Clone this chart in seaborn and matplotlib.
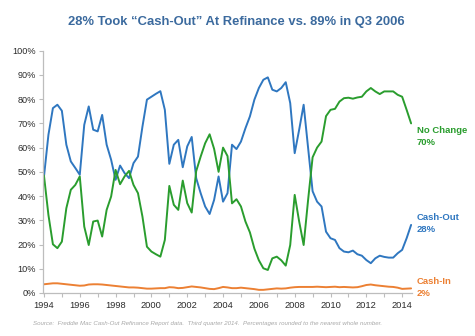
import numpy as np
import pandas as pd
import matplotlib
matplotlib.use("Agg")
import matplotlib.pyplot as plt
import seaborn as sns
from matplotlib.ticker import PercentFormatter, MultipleLocator

# ---- data (quarterly, 1994 Q1 - 2014 Q3), percent of refinances ----
quarters = pd.period_range("1994Q1", "2014Q3", freq="Q")

cash_out = [48.0, 65.3, 76.3, 77.7,   75.2, 61.2, 54.3, 51.6,
            48.8, 69.4, 77.0, 67.4,   66.7, 73.5, 61.2, 55.0,
            46.7, 52.6, 49.5, 47.4,   53.6, 56.3, 68.7, 79.8,
            81.0, 82.2, 83.3, 75.6,   53.3, 61.2, 63.2, 51.9,
            60.5, 64.4, 47.4, 41.2,   35.7, 32.6, 38.4, 48.1,
            37.7, 41.2, 61.2, 59.4,   62.5, 68.0, 72.9, 79.8,
            84.6, 88.0, 89.0, 83.9,   83.2, 84.6, 87.0, 78.4,
            57.7, 67.4, 77.7, 59.8,   42.0, 37.7, 35.7, 25.3,
            22.6, 21.9, 18.5, 17.1,   16.8, 17.5, 16.0, 15.4,
            13.6, 12.3, 14.3, 15.4,   14.9, 14.6, 14.6, 16.4,
            17.8, 22.6, 28.1]

no_change = [48.5, 32.2, 20.1, 18.5,  21.2, 35.0, 42.6, 44.6,
             48.1, 27.4, 19.8, 29.5,  29.9, 23.3, 34.3, 39.8,
             50.8, 44.9, 48.1, 50.4,  44.6, 41.2, 31.5, 19.1,
             17.1, 16.0, 15.0, 21.9,  44.2, 36.4, 34.3, 46.4,
             37.1, 33.2, 50.3, 56.3,  61.8, 65.5, 59.5, 50.0,
             60.0, 56.5, 37.0, 38.7,  35.7, 29.5, 25.0, 18.3,
             13.5, 10.2, 9.5, 14.3,   15.0, 13.5, 11.3, 19.8,
             40.5, 29.5, 19.8, 38.5,  56.0, 60.0, 62.5, 73.0,
             75.6, 76.0, 79.0, 80.4,  80.6, 80.2, 80.7, 81.0,
             83.2, 84.6, 83.2, 82.1,  83.2, 83.2, 83.2, 81.8,
             81.0, 75.6, 70.0]

cash_in = [3.6, 3.8, 4.0, 4.0,  3.8, 3.6, 3.4, 3.2,
           3.0, 3.1, 3.5, 3.6,  3.6, 3.5, 3.3, 3.1,
           2.9, 2.7, 2.5, 2.3,  2.3, 2.2, 2.0, 1.8,
           1.8, 1.9, 2.0, 2.0,  2.4, 2.3, 2.0, 2.1,
           2.4, 2.7, 2.5, 2.3,  2.0, 1.7, 1.6, 2.0,
           2.5, 2.3, 2.0, 2.0,  2.2, 2.0, 1.8, 1.6,
           1.3, 1.3, 1.5, 1.7,  1.9, 1.8, 1.9, 2.2,
           2.4, 2.5, 2.5, 2.5,  2.5, 2.6, 2.5, 2.4,
           2.5, 2.6, 2.4, 2.5,  2.4, 2.3, 2.4, 2.8,
           3.3, 3.5, 3.2, 3.0,  2.8, 2.6, 2.5, 2.2,
           1.7, 1.8, 1.9]

series_names = ["Cash-Out", "No Change", "Cash-In"]
end_labels = ["28%", "70%", "2%"]
year_ticks = list(range(1994, 2015, 2))

title = "28% Took \u201cCash-Out\u201d At Refinance vs. 89% in Q3 2006"
source = ("Source:  Freddie Mac Cash-Out Refinance Report data.  Third quarter 2014.  "
          "Percentages rounded to the nearest whole number.")

# ---- build long table ----
t = np.asarray(quarters.year + (quarters.quarter - 1) / 4.0, dtype=float)
n = len(t)
df = pd.DataFrame({
    "t": np.concatenate([t, t, t]),
    "value": cash_out + no_change + cash_in,
    "series": [series_names[0]] * n + [series_names[1]] * n + [series_names[2]] * n,
})

colors = {"Cash-Out": "#2F77C0", "No Change": "#2A9D2E", "Cash-In": "#EC8033"}

sns.set_style("white")
plt.rcParams["font.family"] = ["Liberation Sans", "DejaVu Sans"]

W, H = 475, 336
fig = plt.figure(figsize=(W / 100, H / 100), dpi=100)
ax = fig.add_axes([42.7 / W, 43 / H, 369.3 / W, 242.3 / H])

sns.lineplot(data=df, x="t", y="value", hue="series", hue_order=series_names,
             palette=colors, linewidth=1.4, ax=ax, legend=False)

ax.set_xlim(1993.93, 2014.55)
ax.set_ylim(0, 100)
ax.set_xticks(year_ticks)
ax.set_xticklabels([str(y) for y in year_ticks])
ax.xaxis.set_minor_locator(MultipleLocator(1))
ax.yaxis.set_major_locator(MultipleLocator(10))
ax.yaxis.set_major_formatter(PercentFormatter(100, decimals=0))
ax.set_xlabel("")
ax.set_ylabel("")

for s in ["top", "right"]:
    ax.spines[s].set_visible(False)
for s in ["left", "bottom"]:
    ax.spines[s].set_color("#bdbdbd")
    ax.spines[s].set_linewidth(0.9)

ax.tick_params(axis="y", which="major", length=3, width=0.8, color="#bdbdbd",
               labelsize=6.6, labelcolor="#2b2b2b", pad=2, left=True)
ax.tick_params(axis="x", which="major", length=3, width=0.8, color="#bdbdbd",
               labelsize=6.7, labelcolor="#2b2b2b", pad=2.5, bottom=True)
ax.tick_params(axis="x", which="minor", length=3, width=0.8, color="#bdbdbd", bottom=True)

# end labels
label_pos = {"No Change": (66.9, 62.2), "Cash-Out": (31.1, 26.3), "Cash-In": (4.7, -0.1)}
for name, lab in zip(series_names, end_labels):
    y1, y2 = label_pos[name]
    ax.text(2014.82, y1, name, color=colors[name], fontsize=6.8, fontweight="bold",
            va="center", ha="left", clip_on=False)
    ax.text(2014.82, y2, lab, color=colors[name], fontsize=6.8, fontweight="bold",
            va="center", ha="left", clip_on=False)

fig.text(236.5 / W, 1 - 21.7 / H, title, ha="center", va="center",
         fontsize=9.4, fontweight="bold", color="#3B6A9E")
fig.text(32.7 / W, 1 - 323.5 / H, source, ha="left", va="center",
         fontsize=4.4, style="italic", color="#a8a8a8")

fig.savefig("out.png", dpi=100)
